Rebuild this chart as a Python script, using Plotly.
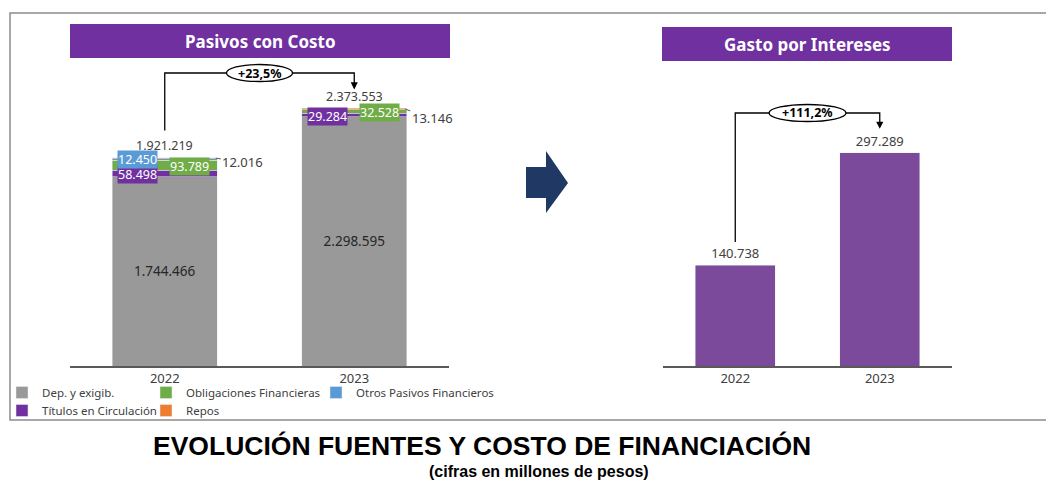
import plotly.graph_objects as go

W, H = 1054, 483
OFF = 8  # page body margin of the html page

# ---------------- data ----------------
years = ["2022", "2023"]
dep_exig = [1744466, 2298595]          # Dep. y exigib.
titulos = [58498, 29284]               # Títulos en Circulación
obligaciones = [93789, 32528]          # Obligaciones Financieras
otros_pasivos = [12450, 0]             # Otros Pasivos Financieros
repos = [12016, 13146]                 # Repos
gasto_intereses = [140738, 297289]     # Gasto por Intereses

# ---------------- helpers ----------------
def fx(px):
    return (px - OFF) / W

def fy(py):
    return 1 - (py - OFF) / H

def fmt(v):
    return f"{v:,}".replace(",", ".")

def pct(a, b):
    return ("+" + f"{(b / a - 1) * 100:.1f}%").replace(".", ",")

FONT = "Noto Sans, Century Gothic, sans-serif"
TXT = "#404040"
GRAY = "#999999"
PURPLE = "#7030A0"
GREEN = "#70AD47"
BLUE = "#5B9BD5"
ORANGE = "#ED7D31"
BARPURPLE = "#7B4A9B"

# plot geometry (reference pixels)
L_X0, L_X1 = 70, 449
R_X0, R_X1 = 663, 952
BASE_Y, TOP_Y = 366, 60
L_YMAX = 2820000
R_YMAX = 426800

def ly(v):
    return BASE_Y - v / L_YMAX * (BASE_Y - TOP_Y)

def ry(v):
    return BASE_Y - v / R_YMAX * (BASE_Y - TOP_Y)

totals = [d + t + o + ot + r for d, t, o, ot, r in zip(dep_exig, titulos, obligaciones, otros_pasivos, repos)]

fig = go.Figure()

bw = 0.555
fig.add_trace(go.Bar(x=years, y=dep_exig, name="Dep. y exigib.", marker_color=GRAY,
                     width=bw, texttemplate="%{y:,.0f}", textposition="inside",
                     insidetextanchor="middle", textfont=dict(size=13.5, color="#262626", family=FONT),
                     legend="legend", xaxis="x", yaxis="y"))
fig.add_trace(go.Bar(x=years, y=titulos, name="Títulos en Circulación", marker_color=PURPLE,
                     width=bw, legend="legend2", xaxis="x", yaxis="y"))
fig.add_trace(go.Bar(x=years, y=obligaciones, name="Obligaciones Financieras", marker_color=GREEN,
                     width=bw, legend="legend3", xaxis="x", yaxis="y"))
fig.add_trace(go.Bar(x=years, y=otros_pasivos, name="Otros Pasivos Financieros", marker_color=BLUE,
                     width=bw, legend="legend4", xaxis="x", yaxis="y"))
fig.add_trace(go.Bar(x=years, y=repos, name="Repos", marker_color=ORANGE,
                     width=bw, legend="legend5", xaxis="x", yaxis="y"))

fig.add_trace(go.Bar(x=years, y=gasto_intereses, marker_color=BARPURPLE, width=0.555,
                     texttemplate="%{y:,.0f}", textposition="outside",
                     textfont=dict(size=13, color=TXT, family=FONT), cliponaxis=False,
                     showlegend=False, xaxis="x2", yaxis="y2"))

ann = []
shapes = []

def pann(x, y, text, **kw):
    d = dict(x=fx(x), y=fy(y), xref="paper", yref="paper", text=text, showarrow=False,
             xanchor="center", yanchor="middle")
    d.update(kw)
    ann.append(d)

# segment labels (left chart) -- x given as category index
BOXFONT = 12.5
for i, yr in enumerate(years):
    c_tit = dep_exig[i] + titulos[i] / 2
    c_obl = dep_exig[i] + titulos[i] + obligaciones[i] / 2
    c_otr = dep_exig[i] + titulos[i] + obligaciones[i] + otros_pasivos[i] / 2
    c_rep = totals[i] - repos[i] / 2
    common = dict(xref="x", yref="y", xanchor="center", yanchor="middle")
    ann.append(dict(common, x=i, y=c_tit, text=fmt(titulos[i]), showarrow=False,
                    xshift=-27, yshift=-1 if i == 0 else -2, bgcolor=PURPLE, borderpad=0,
                    font=dict(size=BOXFONT, color="white", family=FONT)))
    ann.append(dict(common, x=i, y=c_obl, text=fmt(obligaciones[i]), showarrow=False,
                    xshift=25, yshift=-1, bgcolor=GREEN, borderpad=0,
                    font=dict(size=BOXFONT, color="white", family=FONT)))
    if otros_pasivos[i] > 0:
        ann.append(dict(common, x=i, y=c_otr, text=fmt(otros_pasivos[i]), showarrow=False,
                        xshift=-27, yshift=0, bgcolor=BLUE, borderpad=0,
                        font=dict(size=BOXFONT, color="white", family=FONT)))
    ann.append(dict(xref="x", yref="y", x=i, y=c_rep, text=fmt(repos[i]), showarrow=True,
                    arrowhead=0, arrowwidth=1, arrowcolor="#595959", ax=27, ay=4 if i == 0 else 9,
                    xshift=51, standoff=0,
                    font=dict(size=13, color=TXT, family=FONT)))
    ann.append(dict(common, x=i, y=totals[i], text=fmt(totals[i]), showarrow=False,
                    yshift=12, font=dict(size=12.5, color=TXT, family=FONT)))

# growth brackets
def bracket(xa, xb, y_start, y_top, y_tip, label, rx):
    shapes.append(dict(type="path", xref="paper", yref="paper",
                       path=f"M{fx(xa)},{fy(y_start)} L{fx(xa)},{fy(y_top)} L{fx(xb)},{fy(y_top)} L{fx(xb)},{fy(y_tip - 6)}",
                       line=dict(color="black", width=1.3)))
    ann.append(dict(x=fx(xb), y=fy(y_tip), xref="paper", yref="paper", text="", showarrow=True,
                    ax=0, ay=-8, arrowhead=2, arrowsize=1.1, arrowwidth=1.3, arrowcolor="black"))
    xm = (xa + xb) / 2
    shapes.append(dict(type="circle", xref="paper", yref="paper",
                       x0=fx(xm - rx), x1=fx(xm + rx), y0=fy(y_top + 8.5), y1=fy(y_top - 8.5),
                       fillcolor="white", line=dict(color="black", width=1.3)))
    pann(xm, y_top, f"<b>{label}</b>", font=dict(size=12.5, color="black", family=FONT))

lc = [L_X0 + (L_X1 - L_X0) * 0.25, L_X0 + (L_X1 - L_X0) * 0.75]
rc = [R_X0 + (R_X1 - R_X0) * 0.25, R_X0 + (R_X1 - R_X0) * 0.75]
bracket(lc[0], lc[1], ly(totals[0]) - 27, 73, ly(totals[1]) - 19, pct(totals[0], totals[1]), 33)
bracket(rc[0], rc[1], ry(gasto_intereses[0]) - 23, 113, ry(gasto_intereses[1]) - 24,
        pct(gasto_intereses[0], gasto_intereses[1]), 38.5)

# title boxes
for (x0, y0, x1, y1, t) in [(70, 24, 450, 58, "Pasivos con Costo"), (662, 27, 952, 61, "Gasto por Intereses")]:
    shapes.append(dict(type="rect", xref="paper", yref="paper", x0=fx(x0), x1=fx(x1), y0=fy(y1), y1=fy(y0),
                       fillcolor=PURPLE, line=dict(width=0), layer="below"))
    pann((x0 + x1) / 2, (y0 + y1) / 2, f"<b>{t}</b>", font=dict(size=17, color="white", family=FONT))

# navy arrow
pts = [(526, 167), (546, 167), (546, 151), (568, 183), (546, 213), (546, 198), (526, 198)]
shapes.append(dict(type="path", xref="paper", yref="paper",
                   path="M" + " L".join(f"{fx(a)},{fy(b)}" for a, b in pts) + " Z",
                   fillcolor="#1F3864", line=dict(width=0)))

# frame
shapes.append(dict(type="path", xref="paper", yref="paper",
                   path=f"M{fx(1070)},{fy(13)} L{fx(10)},{fy(13)} L{fx(10)},{fy(420)} L{fx(1070)},{fy(420)}",
                   line=dict(color="#8c8c8c", width=1.5)))

# bottom titles
pann(482, 446, "<b>EVOLUCIÓN FUENTES Y COSTO DE FINANCIACIÓN</b>",
     font=dict(size=26.5, color="black", family="Liberation Sans, Arial"))
pann(539, 471, "<b>(cifras en millones de pesos)</b>",
     font=dict(size=16, color="black", family="Liberation Sans, Arial"))

axis_x = dict(type="category", showline=True, linecolor="#595959", linewidth=1.5, ticks="",
              showgrid=False, zeroline=False, tickfont=dict(size=13, color=TXT, family=FONT),
              range=[-0.5, 1.5], fixedrange=True)
axis_y = dict(visible=False, showgrid=False, zeroline=False, fixedrange=True)

leg_common = dict(orientation="v", xanchor="left", yanchor="top", bgcolor="rgba(0,0,0,0)",
                  font=dict(size=11.5, color=TXT, family=FONT), tracegroupgap=0, itemclick=False,
                  borderwidth=0)

# legend text starts 40 px after the legend's left edge; row centre ~14 px below its top
row1, row2 = 392, 410
fig.update_layout(
    width=W, height=H, margin=dict(l=0, r=0, t=0, b=0, autoexpand=False),
    paper_bgcolor="white", plot_bgcolor="white",
    barmode="stack", bargap=0.45, separators=",.",
    font=dict(family=FONT, color=TXT),
    xaxis=dict(axis_x, domain=[fx(L_X0), fx(L_X1)], anchor="y"),
    yaxis=dict(axis_y, domain=[fy(BASE_Y), fy(TOP_Y)], range=[0, L_YMAX], anchor="x"),
    xaxis2=dict(axis_x, domain=[fx(R_X0), fx(R_X1)], anchor="y2"),
    yaxis2=dict(axis_y, domain=[fy(BASE_Y), fy(TOP_Y)], range=[0, R_YMAX], anchor="x2"),
    legend=dict(leg_common, x=fx(2), y=fy(row1 - 14)),
    legend2=dict(leg_common, x=fx(2), y=fy(row2 - 14)),
    legend3=dict(leg_common, x=fx(146), y=fy(row1 - 14)),
    legend5=dict(leg_common, x=fx(146), y=fy(row2 - 14)),
    legend4=dict(leg_common, x=fx(316), y=fy(row1 - 14)),
    annotations=ann, shapes=shapes, hovermode=False,
)

fig.write_html("out.html")
